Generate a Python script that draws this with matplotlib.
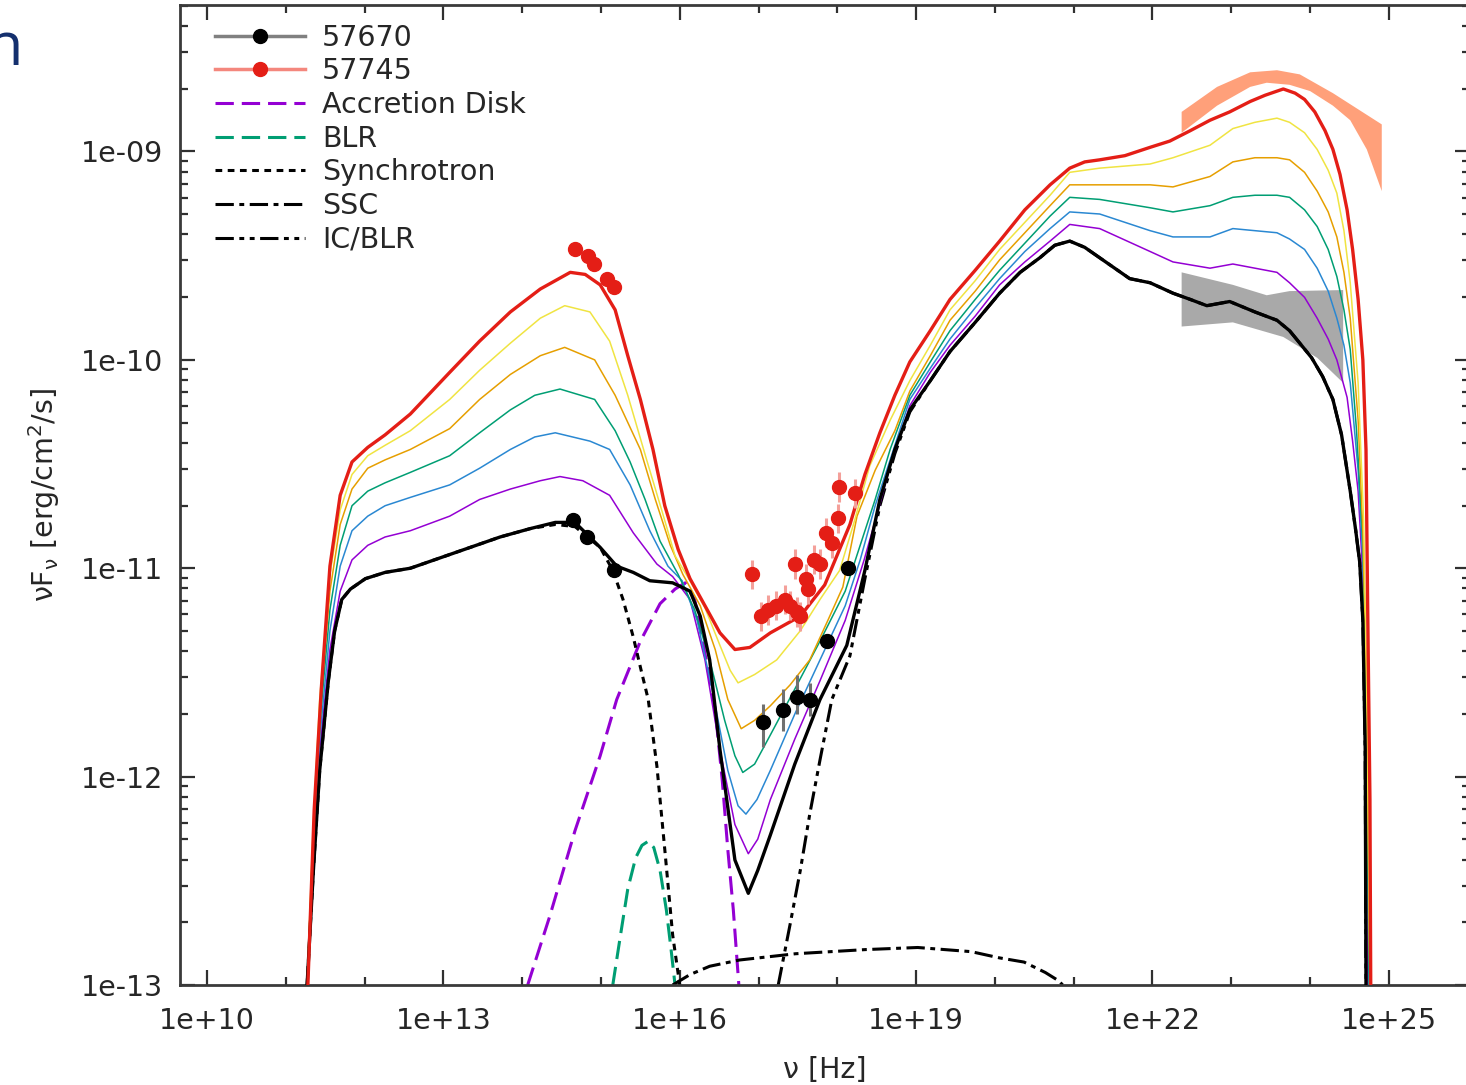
import numpy as np
import matplotlib.pyplot as plt
from matplotlib.lines import Line2D
from matplotlib.ticker import FixedLocator, LogLocator, FuncFormatter, NullFormatter

# --- SED model curves: log10(nu [Hz]) and log10(nuFnu [erg/cm2/s]) ---
# MJD 57670 (low state)
lnu_57670 = [11.27, 11.35, 11.43, 11.54, 11.62, 11.71, 11.82, 12.01, 12.26, 12.58, 12.96, 13.34, 13.72,
             14.10, 14.42, 14.67, 14.99, 15.20, 15.41, 15.62, 15.91, 16.13, 16.26, 16.38, 16.51, 16.70,
             16.87, 16.99, 17.15, 17.46, 17.78, 18.12, 18.35, 18.54, 18.73, 18.92, 19.18, 19.43, 19.75,
             20.06, 20.32, 20.57, 20.76, 20.95, 21.14, 21.33, 21.52, 21.71, 21.97, 22.26, 22.48, 22.69,
             22.98, 23.30, 23.58, 23.74, 23.87, 24.02, 24.16, 24.29, 24.40, 24.51, 24.58, 24.63, 24.67,
             24.70, 24.71]
lf_57670 = [-13.0, -12.45, -11.97, -11.54, -11.30, -11.15, -11.10, -11.05, -11.02, -11.00, -10.95, -10.90,
            -10.85, -10.81, -10.78, -10.78, -10.90, -10.99, -11.02, -11.06, -11.07, -11.11, -11.23, -11.44,
            -11.87, -12.40, -12.56, -12.45, -12.28, -11.94, -11.63, -11.37, -11.01, -10.67, -10.43, -10.24,
            -10.10, -9.96, -9.82, -9.68, -9.58, -9.51, -9.45, -9.43, -9.46, -9.51, -9.56, -9.61, -9.63,
            -9.68, -9.71, -9.74, -9.72, -9.77, -9.81, -9.86, -9.92, -9.99, -10.08, -10.19, -10.36, -10.63,
            -10.82, -10.97, -11.25, -11.87, -13.0]

# intermediate steps between the two epochs
lnu_step1 = [11.27, 11.35, 11.43, 11.56, 11.69, 11.84, 12.04, 12.26, 12.58, 13.08, 13.46, 13.85, 14.23,
             14.48, 14.77, 15.11, 15.41, 15.71, 15.91, 16.13, 16.32, 16.51, 16.70, 16.87, 16.99, 17.15,
             17.46, 17.78, 18.10, 18.34, 18.52, 18.67, 18.92, 19.18, 19.43, 19.75, 20.06, 20.38, 20.70,
             20.95, 21.33, 21.97, 22.26, 22.73, 23.02, 23.30, 23.58, 23.74, 23.93, 24.09, 24.23, 24.34,
             24.47, 24.54, 24.61, 24.66, 24.70, 24.73]
lf_step1 = [-13.0, -12.40, -11.87, -11.39, -11.11, -10.96, -10.89, -10.85, -10.82, -10.75, -10.67, -10.62,
            -10.58, -10.56, -10.58, -10.65, -10.83, -10.98, -11.04, -11.15, -11.44, -11.87, -12.23, -12.37,
            -12.30, -12.11, -11.82, -11.54, -11.25, -10.96, -10.72, -10.51, -10.22, -10.06, -9.93, -9.79,
            -9.64, -9.53, -9.43, -9.35, -9.37, -9.48, -9.53, -9.56, -9.54, -9.56, -9.58, -9.63, -9.70,
            -9.80, -9.90, -10.00, -10.18, -10.39, -10.63, -10.97, -11.63, -13.0]

lnu_step2 = [11.27, 11.35, 11.43, 11.56, 11.69, 11.84, 12.04, 12.26, 12.58, 13.08, 13.46, 13.85, 14.16,
             14.42, 14.86, 15.11, 15.37, 15.62, 15.85, 16.03, 16.22, 16.41, 16.61, 16.74, 16.84, 16.98,
             17.15, 17.46, 17.78, 18.10, 18.29, 18.48, 18.67, 18.92, 19.18, 19.43, 19.75, 20.06, 20.38,
             20.70, 20.95, 21.33, 21.97, 22.26, 22.73, 23.02, 23.30, 23.58, 23.74, 23.93, 24.09, 24.23,
             24.34, 24.43, 24.51, 24.61, 24.67, 24.71, 24.75]
lf_step2 = [-13.0, -12.35, -11.82, -11.30, -10.99, -10.82, -10.75, -10.70, -10.66, -10.60, -10.52, -10.43,
            -10.37, -10.35, -10.39, -10.43, -10.60, -10.82, -10.99, -11.06, -11.25, -11.58, -11.97, -12.14,
            -12.18, -12.11, -11.97, -11.70, -11.44, -11.18, -10.96, -10.70, -10.48, -10.19, -10.04, -9.90,
            -9.75, -9.61, -9.48, -9.37, -9.29, -9.30, -9.38, -9.41, -9.41, -9.37, -9.38, -9.39, -9.42,
            -9.47, -9.56, -9.67, -9.80, -9.93, -10.11, -10.53, -10.96, -11.63, -13.0]

lnu_step3 = [11.27, 11.35, 11.43, 11.56, 11.69, 11.84, 12.04, 12.26, 12.58, 13.08, 13.46, 13.85, 14.16,
             14.48, 14.92, 15.18, 15.37, 15.56, 15.75, 15.98, 16.19, 16.38, 16.57, 16.70, 16.80, 16.95,
             17.15, 17.46, 17.78, 18.10, 18.29, 18.48, 18.67, 18.92, 19.18, 19.43, 19.75, 20.06, 20.38,
             20.70, 20.95, 21.33, 21.97, 22.26, 22.73, 23.02, 23.30, 23.58, 23.74, 23.93, 24.09, 24.23,
             24.34, 24.43, 24.51, 24.59, 24.67, 24.71, 24.75]
lf_step3 = [-13.0, -12.30, -11.75, -11.20, -10.89, -10.70, -10.63, -10.59, -10.54, -10.46, -10.35, -10.24,
            -10.17, -10.14, -10.19, -10.34, -10.49, -10.67, -10.87, -11.03, -11.20, -11.44, -11.73, -11.90,
            -11.98, -11.94, -11.80, -11.58, -11.35, -11.11, -10.89, -10.67, -10.43, -10.17, -10.01, -9.86,
            -9.71, -9.57, -9.44, -9.31, -9.22, -9.23, -9.27, -9.29, -9.26, -9.22, -9.21, -9.21, -9.22,
            -9.28, -9.36, -9.47, -9.60, -9.76, -9.95, -10.34, -10.87, -11.63, -13.0]

lnu_step4 = [11.27, 11.35, 11.43, 11.56, 11.69, 11.84, 12.04, 12.26, 12.58, 13.08, 13.46, 13.85, 14.23,
             14.54, 14.92, 15.18, 15.50, 15.69, 15.88, 16.04, 16.26, 16.45, 16.61, 16.78, 16.95, 17.15,
             17.40, 17.65, 17.88, 18.07, 18.25, 18.48, 18.73, 18.92, 19.18, 19.43, 19.75, 20.06, 20.38,
             20.70, 20.95, 21.33, 21.97, 22.26, 22.73, 23.02, 23.30, 23.58, 23.74, 23.93, 24.09, 24.23,
             24.34, 24.43, 24.51, 24.61, 24.67, 24.72, 24.76]
lf_step4 = [-13.0, -12.26, -11.68, -11.11, -10.79, -10.62, -10.52, -10.48, -10.43, -10.33, -10.19, -10.07,
            -9.98, -9.94, -10.00, -10.17, -10.43, -10.67, -10.89, -11.03, -11.18, -11.39, -11.63, -11.77,
            -11.73, -11.66, -11.56, -11.44, -11.25, -11.09, -10.75, -10.53, -10.34, -10.15, -9.98, -9.81,
            -9.67, -9.52, -9.39, -9.26, -9.16, -9.16, -9.16, -9.17, -9.12, -9.05, -9.03, -9.03, -9.04,
            -9.10, -9.19, -9.29, -9.41, -9.58, -9.80, -10.29, -10.82, -11.63, -13.0]

lnu_step5 = [11.27, 11.35, 11.43, 11.56, 11.69, 11.84, 12.04, 12.26, 12.58, 13.08, 13.46, 13.85, 14.23,
             14.54, 14.86, 15.11, 15.34, 15.58, 15.77, 15.94, 16.13, 16.32, 16.51, 16.64, 16.74, 16.95,
             17.23, 17.53, 17.78, 18.03, 18.22, 18.41, 18.67, 18.92, 19.18, 19.43, 19.75, 20.06, 20.38,
             20.70, 20.95, 21.33, 21.97, 22.26, 22.73, 23.02, 23.30, 23.58, 23.74, 23.93, 24.09, 24.23,
             24.34, 24.43, 24.51, 24.61, 24.68, 24.72, 24.76]
lf_step5 = [-13.0, -12.21, -11.63, -11.03, -10.72, -10.55, -10.46, -10.41, -10.34, -10.19, -10.05, -9.92,
            -9.80, -9.74, -9.77, -9.91, -10.17, -10.48, -10.72, -10.94, -11.06, -11.19, -11.37, -11.49,
            -11.55, -11.51, -11.44, -11.30, -11.15, -11.01, -10.77, -10.51, -10.29, -10.10, -9.93, -9.76,
            -9.62, -9.47, -9.34, -9.21, -9.10, -9.08, -9.06, -9.03, -8.97, -8.89, -8.86, -8.84, -8.86,
            -8.91, -8.99, -9.09, -9.20, -9.38, -9.63, -10.11, -10.77, -11.63, -13.0]

# MJD 57745 (flare)
lnu_57745 = [11.28, 11.36, 11.45, 11.56, 11.69, 11.84, 12.04, 12.26, 12.58, 13.08, 13.46, 13.85, 14.23,
             14.61, 14.80, 14.99, 15.18, 15.34, 15.50, 15.66, 15.81, 15.98, 16.13, 16.32, 16.51, 16.70,
             16.89, 17.15, 17.53, 17.84, 18.16, 18.35, 18.54, 18.73, 18.92, 19.18, 19.43, 19.75, 20.06,
             20.38, 20.70, 20.95, 21.14, 21.33, 21.65, 21.97, 22.22, 22.48, 22.73, 22.98, 23.24, 23.43,
             23.66, 23.81, 23.93, 24.06, 24.19, 24.29, 24.38, 24.47, 24.54, 24.61, 24.67, 24.71, 24.73,
             24.76, 24.77]
lf_57745 = [-13.0, -12.16, -11.58, -10.99, -10.65, -10.49, -10.42, -10.36, -10.26, -10.06, -9.91, -9.77,
            -9.66, -9.58, -9.59, -9.64, -9.76, -9.98, -10.19, -10.43, -10.70, -10.91, -11.05, -11.18,
            -11.31, -11.39, -11.38, -11.31, -11.23, -11.08, -10.79, -10.55, -10.35, -10.17, -10.01, -9.86,
            -9.71, -9.57, -9.43, -9.28, -9.16, -9.08, -9.05, -9.04, -9.02, -8.98, -8.95, -8.90, -8.85,
            -8.81, -8.76, -8.73, -8.70, -8.72, -8.75, -8.81, -8.90, -8.99, -9.11, -9.28, -9.47, -9.71,
            -10.00, -10.43, -11.15, -12.11, -13.0]

# --- emission components (57670) ---
lnu_disk = [14.07, 14.35, 14.67, 14.99, 15.20, 15.50, 15.75, 15.94, 16.07, 16.19, 16.29, 16.36, 16.45,
            16.54, 16.61, 16.68, 16.75]
lf_disk = [-13.0, -12.67, -12.26, -11.90, -11.63, -11.35, -11.17, -11.10, -11.07, -11.15, -11.35, -11.49,
           -11.68, -12.02, -12.35, -12.64, -13.0]

lnu_blr = [15.15, 15.24, 15.34, 15.44, 15.52, 15.60, 15.67, 15.75, 15.83, 15.89, 15.94]
lf_blr = [-13.0, -12.78, -12.54, -12.39, -12.33, -12.31, -12.34, -12.45, -12.64, -12.83, -13.0]

lnu_sync = [11.27, 11.35, 11.43, 11.54, 11.62, 11.71, 11.82, 12.01, 12.26, 12.58, 12.96, 13.34, 13.72,
            14.10, 14.42, 14.67, 14.99, 15.15, 15.28, 15.41, 15.51, 15.60, 15.71, 15.81, 15.91, 16.00]
lf_sync = [-13.0, -12.45, -11.97, -11.54, -11.30, -11.15, -11.10, -11.05, -11.02, -11.00, -10.95, -10.90,
           -10.85, -10.81, -10.79, -10.80, -10.90, -11.01, -11.15, -11.33, -11.49, -11.63, -11.95, -12.35,
           -12.76, -13.0]

lnu_ssc = [15.91, 16.13, 16.38, 16.76, 17.47, 18.36, 19.02, 19.70, 20.06, 20.37, 20.64, 20.81, 20.86]
lf_ssc = [-13.0, -12.95, -12.91, -12.88, -12.85, -12.83, -12.82, -12.84, -12.87, -12.89, -12.94, -12.98,
          -13.0]

lnu_icblr = [17.25, 17.40, 17.53, 17.65, 17.78, 17.93, 18.16, 18.35, 18.54, 18.73, 18.92, 19.18, 19.43,
             19.75, 20.06, 20.32, 20.57, 20.76, 20.95, 21.14, 21.33, 21.52, 21.71, 21.97, 22.26, 22.48,
             22.69, 22.98, 23.30, 23.58, 23.74, 23.87, 24.02, 24.16, 24.29, 24.40, 24.51, 24.58, 24.63,
             24.67, 24.70, 24.71]
lf_icblr = [-13.0, -12.71, -12.45, -12.18, -11.92, -11.63, -11.42, -11.05, -10.70, -10.45, -10.25, -10.10,
            -9.96, -9.82, -9.68, -9.58, -9.51, -9.45, -9.43, -9.46, -9.51, -9.56, -9.61, -9.63, -9.68,
            -9.71, -9.74, -9.72, -9.77, -9.81, -9.86, -9.92, -9.99, -10.08, -10.19, -10.36, -10.63,
            -10.82, -10.97, -11.25, -11.87, -13.0]

# --- observations ---
obs70_lnu = [14.64, 14.82, 15.17, 17.06, 17.31, 17.49, 17.65, 17.87, 18.13]
obs70_lf = [-10.77, -10.85, -11.01, -11.74, -11.68, -11.62, -11.63, -11.35, -11.00]
obs70_elo = [0.01, 0.01, 0.01, 0.12, 0.10, 0.08, 0.08, 0.03, 0.03]
obs70_ehi = [0.01, 0.01, 0.01, 0.09, 0.10, 0.11, 0.08, 0.03, 0.03]

obs45_lnu = [14.67, 14.84, 14.91, 15.08, 15.17, 16.92, 17.03, 17.12, 17.22, 17.34, 17.40, 17.49, 17.53,
             17.46, 17.60, 17.63, 17.70, 17.78, 17.86, 17.93, 18.01, 18.02, 18.22]
obs45_lf = [-9.47, -9.50, -9.54, -9.61, -9.65, -11.03, -11.23, -11.20, -11.18, -11.15, -11.18, -11.21,
            -11.23, -10.98, -11.05, -11.10, -10.96, -10.98, -10.83, -10.88, -10.76, -10.61, -10.64]
obs45_err = [0.01, 0.01, 0.01, 0.01, 0.01, 0.07, 0.07, 0.07, 0.07, 0.07, 0.07, 0.07, 0.07, 0.07, 0.07,
             0.07, 0.07, 0.07, 0.07, 0.07, 0.07, 0.07, 0.07]

# Fermi-LAT butterflies (upper / lower edges)
lat70_lnu_hi = [22.37, 23.02, 23.45, 23.74, 24.42]
lat70_lf_hi = [-9.58, -9.64, -9.69, -9.67, -9.665]
lat70_lnu_lo = [22.37, 23.02, 23.66, 24.09, 24.42]
lat70_lf_lo = [-9.84, -9.82, -9.89, -9.99, -10.11]

lat45_lnu_hi = [22.37, 22.82, 23.24, 23.58, 23.87, 24.29, 24.91]
lat45_lf_hi = [-8.81, -8.69, -8.62, -8.61, -8.63, -8.72, -8.87]
lat45_lnu_lo = [22.37, 22.82, 23.24, 23.45, 23.74, 24.00, 24.29, 24.51, 24.72, 24.91]
lat45_lf_lo = [-8.91, -8.78, -8.69, -8.67, -8.68, -8.71, -8.78, -8.85, -8.99, -9.19]

step_colors = ["#9400D3", "#2a88d2", "#009E73", "#E69F00", "#F0E442"]
RED = "#e41e16"
TXT = "#262626"


def p(a):
    return 10.0 ** np.asarray(a)


fig = plt.figure(figsize=(14.66, 10.85), dpi=100)
ax = fig.add_axes([180 / 1466, 100 / 1085, 1290 / 1466, 980 / 1085])
ax.set_xscale("log")
ax.set_yscale("log")

# butterflies
ax.fill(np.concatenate([p(lat70_lnu_hi), p(lat70_lnu_lo)[::-1]]),
        np.concatenate([p(lat70_lf_hi), p(lat70_lf_lo)[::-1]]), color="#a9a9a9", lw=0, zorder=1)
ax.fill(np.concatenate([p(lat45_lnu_hi), p(lat45_lnu_lo)[::-1]]),
        np.concatenate([p(lat45_lf_hi), p(lat45_lf_lo)[::-1]]), color="#ffa07a", lw=0, zorder=1)

# components
ax.plot(p(lnu_disk), p(lf_disk), color="#9400D3", lw=2.2, dashes=(6, 2.6), zorder=2)
ax.plot(p(lnu_blr), p(lf_blr), color="#009E73", lw=2.2, dashes=(6, 2.6), zorder=2)
ax.plot(p(lnu_sync), p(lf_sync), color="k", lw=2.2, dashes=(2.2, 1.8), zorder=2)
ax.plot(p(lnu_ssc), p(lf_ssc), color="k", lw=2.2, dashes=(6, 1.8, 1.6, 1.8), zorder=2)
ax.plot(p(lnu_icblr), p(lf_icblr), color="k", lw=2.2, dashes=(6, 1.8, 1.6, 1.8, 1.6, 1.8), zorder=2)

# model evolution
steps = [(lnu_step1, lf_step1), (lnu_step2, lf_step2), (lnu_step3, lf_step3),
         (lnu_step4, lf_step4), (lnu_step5, lf_step5)]
for (xs, ys), c in zip(steps, step_colors):
    ax.plot(p(xs), p(ys), color=c, lw=1.1, zorder=3)
ax.plot(p(lnu_57670), p(lf_57670), color="k", lw=2.4, zorder=4)
ax.plot(p(lnu_57745), p(lf_57745), color=RED, lw=2.4, zorder=4)

# data points
f70 = p(obs70_lf)
ax.errorbar(p(obs70_lnu), f70,
            yerr=[f70 - p(np.array(obs70_lf) - np.array(obs70_elo)),
                  p(np.array(obs70_lf) + np.array(obs70_ehi)) - f70],
            fmt="o", color="k", ms=10, ecolor="#707070", elinewidth=2.2, capsize=0, zorder=5)
f45 = p(obs45_lf)
ax.errorbar(p(obs45_lnu), f45,
            yerr=[f45 - p(np.array(obs45_lf) - np.array(obs45_err)),
                  p(np.array(obs45_lf) + np.array(obs45_err)) - f45],
            fmt="o", color=RED, ms=10, ecolor="#f4a09a", elinewidth=2.2, capsize=0, zorder=5)

# axes
ax.set_xlim(10 ** 9.657, 10 ** 26.03)
ax.set_ylim(1e-13, 10 ** -8.297)
ax.xaxis.set_major_locator(FixedLocator(p([10, 13, 16, 19, 22, 25])))
ax.xaxis.set_minor_locator(FixedLocator(p([k for k in range(11, 27) if (k - 10) % 3])))
ax.xaxis.set_minor_formatter(NullFormatter())
ax.yaxis.set_major_locator(LogLocator(base=10, numticks=20))
ax.yaxis.set_minor_locator(LogLocator(base=10, subs=np.arange(2, 10), numticks=20))
ax.yaxis.set_minor_formatter(NullFormatter())
fmt = FuncFormatter(lambda v, pos: f"{v:.0e}")
ax.xaxis.set_major_formatter(fmt)
ax.yaxis.set_major_formatter(fmt)

ax.tick_params(which="both", direction="in", top=True, right=True, color="#303030",
               labelsize=20.5, labelcolor=TXT)
ax.tick_params(which="major", length=11, width=1.6)
ax.tick_params(which="minor", length=6, width=1.6)
ax.tick_params(axis="y", pad=12)
ax.tick_params(axis="x", pad=16)
for s in ax.spines.values():
    s.set_linewidth(2.0)
    s.set_color("#3a3a3a")

ax.set_xlabel("ν [Hz]", fontsize=20.5, color=TXT, labelpad=15)
ax.set_ylabel(r"νF$_\mathregular{ν}$ [erg/cm$^\mathregular{2}$/s]", fontsize=20.5, color=TXT, labelpad=14)

handles = [
    Line2D([], [], color="#808080", lw=2.5, marker="o", mfc="k", mec="k", ms=10),
    Line2D([], [], color="#f4877d", lw=2.5, marker="o", mfc=RED, mec=RED, ms=10),
    Line2D([], [], color="#9400D3", lw=2.2, dashes=(6, 2.6)),
    Line2D([], [], color="#009E73", lw=2.2, dashes=(6, 2.6)),
    Line2D([], [], color="k", lw=2.2, dashes=(2.2, 1.8)),
    Line2D([], [], color="k", lw=2.2, dashes=(6, 1.8, 1.6, 1.8)),
    Line2D([], [], color="k", lw=2.2, dashes=(6, 1.8, 1.6, 1.8, 1.6, 1.8)),
]
labels = ["57670", "57745", "Accretion Disk", "BLR", "Synchrotron", "SSC", "IC/BLR"]
leg = ax.legend(handles, labels, loc="upper left", bbox_to_anchor=(0.027, 0.981), frameon=False,
                fontsize=20.5, handlelength=3.17, handletextpad=0.6, labelspacing=0.2,
                borderpad=0, borderaxespad=0)
for t in leg.get_texts():
    t.set_color(TXT)

fig.text(23 / 1466, 1 - 65 / 1085, "n", ha="right", va="baseline", fontsize=44,
         color="#14306e", family="Open Sans")

fig.savefig("out.png", dpi=100)
